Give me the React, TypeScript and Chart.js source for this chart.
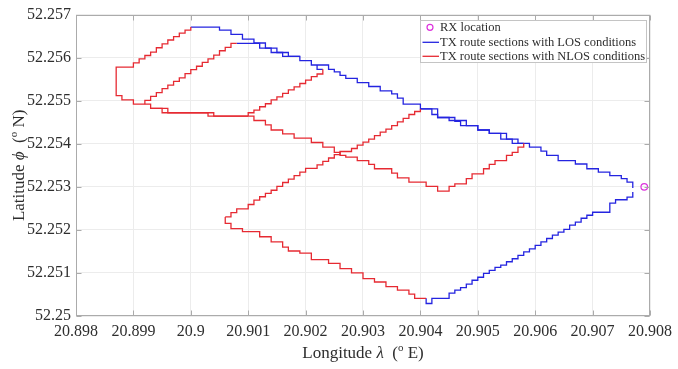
import React, { useEffect, useRef } from 'react';
import { Chart, registerables } from 'chart.js';

Chart.register(...registerables);

const SERIF = '"Liberation Serif", "Times New Roman", serif';

// Axis ticks
const lonTicks = [20.898, 20.899, 20.9, 20.901, 20.902, 20.903, 20.904, 20.905, 20.906, 20.907, 20.908];
const lonTickLabels = ['20.898', '20.899', '20.9', '20.901', '20.902', '20.903', '20.904', '20.905', '20.906', '20.907', '20.908'];
const latTicks = [52.25, 52.251, 52.252, 52.253, 52.254, 52.255, 52.256, 52.257];
const latTickLabels = ['52.25', '52.251', '52.252', '52.253', '52.254', '52.255', '52.256', '52.257'];

// Receiver position [lon, lat]
const rxLocation = [20.9079, 52.253];

// TX route fixes [lon, lat], NLOS sections
const nlosNorthLoop = [
  [20.9000, 52.25671], [20.9000, 52.25664], [20.8999, 52.25657], [20.8998, 52.25649],
  [20.8997, 52.25641], [20.8996, 52.25632], [20.8995, 52.25623], [20.8994, 52.25613],
  [20.8993, 52.25605], [20.8992, 52.25597], [20.8991, 52.25588], [20.8990, 52.25578],
  [20.8988, 52.25578], [20.8987, 52.25565], [20.8987, 52.25512], [20.8988, 52.25502],
  [20.8990, 52.25492], [20.8993, 52.25482], [20.8995, 52.25472], [20.9003, 52.25464],
  [20.9010, 52.25464],
];
const nlosNorthReturn = [
  [20.8993, 52.25482], [20.8996, 52.25472], [20.9004, 52.25464], [20.9010, 52.25464],
];
const nlosInnerDiagonal = [
  [20.8992, 52.25492], [20.8992, 52.25501], [20.8993, 52.25510], [20.8994, 52.25519],
  [20.8995, 52.25528], [20.8996, 52.25536], [20.8997, 52.25545], [20.8998, 52.25553],
  [20.8999, 52.25563], [20.9000, 52.25572], [20.9001, 52.25580], [20.9002, 52.25589],
  [20.9003, 52.25597], [20.9004, 52.25606], [20.9005, 52.25616], [20.9006, 52.25624],
  [20.9007, 52.25633], [20.9008, 52.25633],
];
const nlosMiddleRise = [
  [20.9010, 52.25464], [20.9010, 52.25472], [20.9011, 52.25478], [20.9012, 52.25486],
  [20.9013, 52.25493], [20.9014, 52.25502], [20.9015, 52.25509], [20.9016, 52.25517],
  [20.9017, 52.25525], [20.9018, 52.25532], [20.9019, 52.25540], [20.9020, 52.25548],
  [20.9021, 52.25556], [20.9022, 52.25562], [20.9023, 52.25573],
];
const nlosMiddleDescent = [
  [20.9010, 52.25464], [20.9011, 52.25454], [20.9013, 52.25444], [20.9014, 52.25432],
  [20.9016, 52.25423], [20.9018, 52.25413], [20.9021, 52.25403], [20.9023, 52.25392],
  [20.9025, 52.25380], [20.9026, 52.25373], [20.9027, 52.25369], [20.9029, 52.25361],
  [20.9031, 52.25352], [20.9032, 52.25342], [20.9035, 52.25332], [20.9036, 52.25321],
  [20.9038, 52.25311], [20.9041, 52.25301], [20.9043, 52.25290], [20.9045, 52.25301],
  [20.9046, 52.25307], [20.9048, 52.25319], [20.9049, 52.25330], [20.9051, 52.25342],
  [20.9052, 52.25352], [20.9053, 52.25361], [20.9055, 52.25373], [20.9056, 52.25380],
  [20.9057, 52.25392], [20.9058, 52.25401],
];
const nlosSouthRise = [
  [20.9006, 52.25230], [20.9007, 52.25240], [20.9008, 52.25249], [20.9010, 52.25259],
  [20.9011, 52.25269], [20.9012, 52.25277], [20.9013, 52.25285], [20.9014, 52.25292],
  [20.9015, 52.25301], [20.9016, 52.25310], [20.9017, 52.25318], [20.9018, 52.25326],
  [20.9019, 52.25334], [20.9020, 52.25343], [20.9022, 52.25351], [20.9023, 52.25359],
  [20.9024, 52.25367], [20.9025, 52.25375], [20.9026, 52.25382], [20.9028, 52.25389],
  [20.9029, 52.25397], [20.9030, 52.25404], [20.9031, 52.25411], [20.9032, 52.25419],
  [20.9033, 52.25427], [20.9034, 52.25434], [20.9035, 52.25442], [20.9036, 52.25451],
  [20.9037, 52.25459], [20.9038, 52.25468], [20.9039, 52.25475], [20.9040, 52.25481],
];
const nlosSouthDescent = [
  [20.9006, 52.25230], [20.9006, 52.25215], [20.9007, 52.25203], [20.9009, 52.25196],
  [20.9012, 52.25184], [20.9014, 52.25172], [20.9016, 52.25160], [20.9017, 52.25151],
  [20.9019, 52.25146], [20.9021, 52.25131], [20.9024, 52.25122], [20.9026, 52.25110],
  [20.9028, 52.25100], [20.9030, 52.25087], [20.9032, 52.25079], [20.9034, 52.25068],
  [20.9036, 52.25060], [20.9038, 52.25051], [20.9039, 52.25041], [20.9041, 52.25041],
];

// TX route fixes [lon, lat], LOS sections
const losNorthEdge = [
  [20.9000, 52.25671], [20.9005, 52.25664], [20.9007, 52.25654], [20.9009, 52.25643],
  [20.9011, 52.25634], [20.9013, 52.25622], [20.9015, 52.25612], [20.9017, 52.25603],
  [20.9019, 52.25593], [20.9021, 52.25583], [20.9024, 52.25573], [20.9025, 52.25567],
  [20.9026, 52.25559], [20.9027, 52.25552], [20.9029, 52.25542], [20.9031, 52.25533],
  [20.9033, 52.25523], [20.9035, 52.25516], [20.9036, 52.25506], [20.9037, 52.25492],
  [20.9040, 52.25481], [20.9043, 52.25461], [20.9045, 52.25454], [20.9048, 52.25442],
  [20.9050, 52.25432], [20.9052, 52.25424], [20.9055, 52.25411], [20.9057, 52.25401],
  [20.9059, 52.25392], [20.9061, 52.25383], [20.9062, 52.25373], [20.9064, 52.25361],
  [20.9067, 52.25353], [20.9069, 52.25342], [20.9071, 52.25334], [20.9073, 52.25326],
  [20.9075, 52.25319], [20.9076, 52.25311], [20.9077, 52.25297],
];
const losNorthSecondPass = [
  [20.9008, 52.25633], [20.9012, 52.25622], [20.9014, 52.25612], [20.9016, 52.25603],
  [20.9019, 52.25603],
];
const losEastSecondPass = [
  [20.9040, 52.25481], [20.9042, 52.25468], [20.9043, 52.25461], [20.9046, 52.25452],
  [20.9047, 52.25442], [20.9050, 52.25432], [20.9052, 52.25424], [20.9054, 52.25411],
  [20.9056, 52.25401], [20.9058, 52.25401],
];
const losLink = [
  [20.9023, 52.25573], [20.9022, 52.25583],
];
const losSouthEdge = [
  [20.9041, 52.25041], [20.9041, 52.25029], [20.9042, 52.25041], [20.9045, 52.25053],
  [20.9046, 52.25060], [20.9047, 52.25066], [20.9048, 52.25074], [20.9049, 52.25083],
  [20.9050, 52.25090], [20.9051, 52.25099], [20.9052, 52.25106], [20.9053, 52.25113],
  [20.9054, 52.25118], [20.9055, 52.25126], [20.9056, 52.25133], [20.9057, 52.25141],
  [20.9058, 52.25149], [20.9059, 52.25156], [20.9060, 52.25164], [20.9061, 52.25172],
  [20.9062, 52.25180], [20.9063, 52.25188], [20.9064, 52.25195], [20.9065, 52.25201],
  [20.9066, 52.25211], [20.9067, 52.25218], [20.9068, 52.25227], [20.9069, 52.25234],
  [20.9070, 52.25241], [20.9073, 52.25262], [20.9074, 52.25270], [20.9076, 52.25276],
  [20.9077, 52.25288],
];

const nlosSections = [nlosNorthLoop, nlosNorthReturn, nlosInnerDiagonal, nlosMiddleRise, nlosMiddleDescent, nlosSouthRise, nlosSouthDescent];
const losSections = [losNorthEdge, losNorthSecondPass, losEastSecondPass, losLink, losSouthEdge];

const legendLabels = ['RX location', 'TX route sections with LOS conditions', 'TX route sections with NLOS conditions'];

const LOS_COLOR = '#2424e0';
const NLOS_COLOR = '#e62a32';
const RX_COLOR = '#dd33dd';
const TEXT_COLOR = '#2e2e2e';

type Run = { text: string; italic?: boolean; sup?: boolean };

const xTitle: Run[] = [
  { text: 'Longitude ' }, { text: 'λ', italic: true }, { text: '  (' }, { text: 'o', sup: true }, { text: ' E)' },
];
const yTitle: Run[] = [
  { text: 'Latitude ' }, { text: 'ϕ', italic: true }, { text: '  (' }, { text: 'o', sup: true }, { text: ' N)' },
];

function drawRuns(ctx: CanvasRenderingContext2D, runs: Run[], cx: number, baseline: number, size: number) {
  const fontOf = (r: Run) => `${r.italic ? 'italic ' : ''}${r.sup ? Math.round(size * 0.65) : size}px ${SERIF}`;
  const widths = runs.map((r) => {
    ctx.font = fontOf(r);
    return ctx.measureText(r.text).width;
  });
  const total = widths.reduce((a, b) => a + b, 0);
  let x = cx - total / 2;
  ctx.textAlign = 'left';
  ctx.textBaseline = 'alphabetic';
  runs.forEach((r, i) => {
    ctx.font = fontOf(r);
    ctx.fillText(r.text, x, baseline - (r.sup ? size * 0.4 : 0));
    x += widths[i];
  });
}

const toPoints = (pts: number[][]) => pts.map(([x, y]) => ({ x, y }));

const routeDataset = (pts: number[][], color: string) => ({
  data: toPoints(pts),
  showLine: true,
  stepped: 'before',
  borderColor: color,
  backgroundColor: color,
  borderWidth: 1.3,
  pointRadius: 0,
  pointHoverRadius: 0,
  fill: false,
});

const frameAndLegend = {
  id: 'frameAndLegend',
  afterDraw(chart: any) {
    const { ctx, chartArea: a, scales } = chart;
    ctx.save();

    // axes box
    ctx.strokeStyle = '#ababab';
    ctx.lineWidth = 1;
    const L = Math.round(a.left) + 0.5;
    const R = Math.round(a.right) - 0.5;
    const T = Math.round(a.top) + 0.5;
    const B = Math.round(a.bottom) - 0.5;
    ctx.strokeRect(L, T, R - L, B - T);

    // inward tick marks
    ctx.beginPath();
    lonTicks.forEach((v) => {
      const x = Math.round(scales.x.getPixelForValue(v)) + 0.5;
      ctx.moveTo(x, B); ctx.lineTo(x, B - 5);
      ctx.moveTo(x, T); ctx.lineTo(x, T + 5);
    });
    latTicks.forEach((v) => {
      const y = Math.round(scales.y.getPixelForValue(v)) + 0.5;
      ctx.moveTo(L, y); ctx.lineTo(L + 5, y);
      ctx.moveTo(R, y); ctx.lineTo(R - 5, y);
    });
    ctx.stroke();

    // axis titles
    ctx.fillStyle = TEXT_COLOR;
    drawRuns(ctx, xTitle, (a.left + a.right) / 2, 358, 17);
    ctx.save();
    ctx.translate(24, (a.top + a.bottom) / 2);
    ctx.rotate(-Math.PI / 2);
    drawRuns(ctx, yTitle, 0, 0, 17);
    ctx.restore();

    // legend box
    const bx = Math.round(a.right) - 229.5;
    const by = Math.round(a.top) + 5.5;
    const bw = 226;
    const bh = 42;
    ctx.fillStyle = '#ffffff';
    ctx.fillRect(bx, by, bw, bh);
    ctx.strokeStyle = '#c4c4c4';
    ctx.strokeRect(bx, by, bw, bh);

    const rows = [by + 6.8, by + 21.8, by + 35.8];
    const textX = bx + 19.5;
    // RX marker
    ctx.strokeStyle = RX_COLOR;
    ctx.lineWidth = 1.2;
    ctx.beginPath();
    ctx.arc(bx + 9.5, rows[0], 3, 0, Math.PI * 2);
    ctx.stroke();
    // line samples
    ctx.lineWidth = 1.3;
    ctx.strokeStyle = LOS_COLOR;
    ctx.beginPath(); ctx.moveTo(bx + 2, rows[1]); ctx.lineTo(bx + 18.5, rows[1]); ctx.stroke();
    ctx.strokeStyle = NLOS_COLOR;
    ctx.beginPath(); ctx.moveTo(bx + 2, rows[2]); ctx.lineTo(bx + 18.5, rows[2]); ctx.stroke();

    ctx.fillStyle = TEXT_COLOR;
    ctx.font = `12.5px ${SERIF}`;
    ctx.textAlign = 'left';
    ctx.textBaseline = 'middle';
    legendLabels.forEach((t, i) => ctx.fillText(t, textX, rows[i]));

    ctx.restore();
  },
};

export default function App() {
  const canvasRef = useRef<HTMLCanvasElement>(null);

  useEffect(() => {
    const canvas = canvasRef.current;
    if (!canvas) return;

    const datasets: any[] = [
      ...nlosSections.map((s) => routeDataset(s, NLOS_COLOR)),
      ...losSections.map((s) => routeDataset(s, LOS_COLOR)),
      {
        data: toPoints([rxLocation]),
        showLine: false,
        pointStyle: 'circle',
        pointRadius: 3.3,
        pointHoverRadius: 3.3,
        borderWidth: 1.2,
        borderColor: RX_COLOR,
        backgroundColor: 'rgba(0,0,0,0)',
      },
    ];

    const tickFont = { family: SERIF, size: 16 };

    const chart = new Chart(canvas, {
      type: 'scatter',
      data: { datasets },
      options: {
        responsive: false,
        animation: false,
        devicePixelRatio: 1,
        layout: { padding: { top: 14, right: 23, left: 0, bottom: 0 } },
        plugins: { legend: { display: false }, tooltip: { enabled: false } },
        scales: {
          x: {
            type: 'linear',
            min: 20.898,
            max: 20.908,
            afterBuildTicks: (axis: any) => {
              axis.ticks = lonTicks.map((value) => ({ value }));
            },
            afterFit: (axis: any) => {
              axis.height = 53;
            },
            ticks: {
              autoSkip: false,
              maxRotation: 0,
              padding: 6,
              color: TEXT_COLOR,
              font: tickFont,
              callback: (_v: any, i: number) => lonTickLabels[i],
            },
            grid: { color: '#ececec', drawTicks: false },
            border: { display: false },
          },
          y: {
            type: 'linear',
            min: 52.25,
            max: 52.257,
            afterBuildTicks: (axis: any) => {
              axis.ticks = latTicks.map((value) => ({ value }));
            },
            afterFit: (axis: any) => {
              axis.width = 76;
            },
            ticks: {
              autoSkip: false,
              padding: 5,
              color: TEXT_COLOR,
              font: tickFont,
              callback: (_v: any, i: number) => latTickLabels[i],
            },
            grid: { color: '#ececec', drawTicks: false },
            border: { display: false },
          },
        },
      },
      plugins: [frameAndLegend],
    } as any);

    return () => chart.destroy();
  }, []);

  return (
    <div style={{ position: 'fixed', left: 0, top: 0, width: 678, height: 369, background: '#ffffff' }}>
      <canvas ref={canvasRef} width={678} height={369} style={{ display: 'block', width: 678, height: 369 }} />
    </div>
  );
}
